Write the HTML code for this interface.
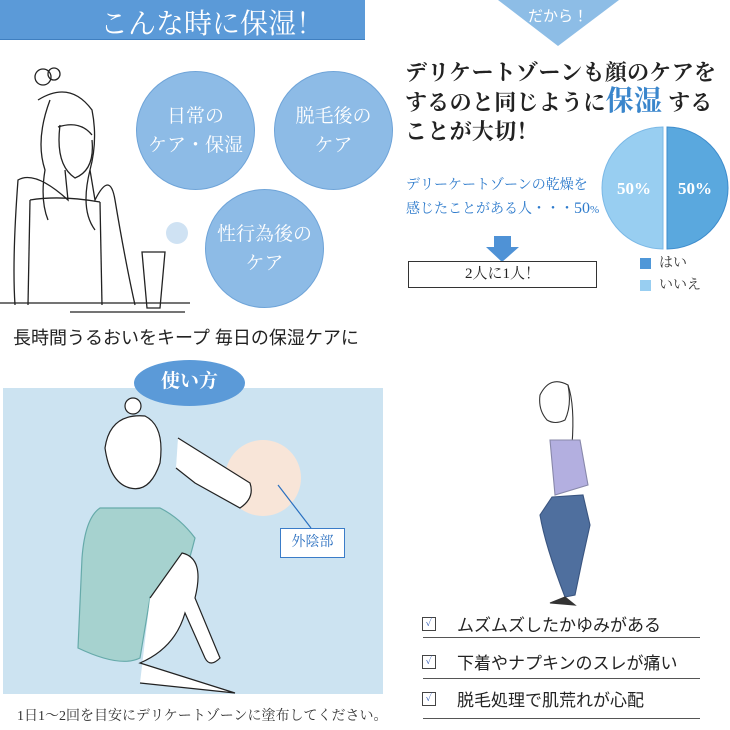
<!DOCTYPE html>
<html><head><meta charset="utf-8"><style>
body{margin:0;width:730px;height:730px;position:relative;background:#fff;overflow:hidden;font-family:"Liberation Serif","Noto Serif CJK SC","Noto Sans CJK JP",serif;}
.a{position:absolute;white-space:nowrap}
.c{position:absolute;border-radius:50%;background:#8dbbe6;border:1px solid #6fa4d8;color:#fff;text-align:center;font-size:19px;line-height:29px;display:flex;align-items:center;justify-content:center}
.chk{position:absolute;width:12px;height:12px;border:1px solid #444;left:422px;font-size:10px;color:#2a55b0;line-height:12px;text-align:center}
.ln{position:absolute;left:423px;width:277px;height:1px;background:#555}
.it{position:absolute;left:457px;font-size:17px;color:#222;font-family:"Liberation Sans","Noto Sans CJK JP",sans-serif}
</style></head><body>
<div class="a" style="left:0;top:0;width:365px;height:39px;background:#5b9ad8;border-bottom:1px solid #3f7fc0"></div>
<div class="a" style="left:100px;top:2px;font-size:28px;color:#fff">こんな時に保湿！</div>
<div class="c" style="left:136px;top:71px;width:117px;height:117px">日常の<br>ケア・保湿</div>
<div class="c" style="left:274px;top:71px;width:117px;height:117px">脱毛後の<br>ケア</div>
<div class="c" style="left:205px;top:189px;width:117px;height:117px">性行為後の<br>ケア</div>
<svg class="a" style="left:0;top:60px" width="200" height="260" fill="none" stroke="#222" stroke-width="1.3">
<circle cx="43" cy="17" r="8"/><circle cx="54" cy="14" r="6"/>
<path d="M38 40 Q70 20 92 50 Q98 80 90 110 Q80 150 95 170"/><path d="M50 40 Q35 80 45 110 Q40 140 48 160"/>
<path d="M60 65 Q55 105 75 118 Q95 110 92 80"/><path d="M58 67 Q80 60 92 75"/>
<path d="M65 110 L68 140 Q35 110 18 120 Q12 200 15 245"/><path d="M90 110 L95 140 Q110 110 115 140 Q125 200 135 245"/>
<path d="M30 140 Q60 135 100 142"/><path d="M30 140 L28 245"/><path d="M100 142 L102 245"/>
<path d="M0 243 L190 243"/><path d="M70 252 L185 252"/>
<path d="M142 192 L165 192 L160 248 L147 248 Z"/>
</svg>
<div class="a" style="left:166px;top:222px;width:22px;height:22px;border-radius:50%;background:#cfe2f3"></div>
<div class="a" style="left:13px;top:324px;font-size:18px;color:#222;font-family:'Liberation Sans','Noto Sans CJK JP',sans-serif">長時間うるおいをキープ 毎日の保湿ケアに</div>

<svg class="a" style="left:498px;top:0" width="121" height="47"><polygon points="0,0 121,0 60,46" fill="#8dbde6"/><text x="60" y="21" fill="#fff" font-size="15" text-anchor="middle" font-family="Liberation Sans,Noto Sans CJK JP,sans-serif">だから！</text></svg>
<div class="a" style="left:405px;top:58px;font-size:22px;font-weight:bold;color:#222;line-height:29px;letter-spacing:0.3px">デリケートゾーンも顔のケアを<br>するのと同じように<span style="color:#3a86cc;font-size:28px">保湿</span> する<br>ことが大切！</div>
<div class="a" style="left:406px;top:174px;font-size:14px;color:#2e7bcc;line-height:23px">デリーケートゾーンの乾燥を<br>感じたことがある人・・・<span style="font-size:16px">50</span><span style="font-size:11px">%</span></div>
<svg class="a" style="left:600px;top:124px" width="130" height="128">
<path d="M63 3 A61 61 0 0 0 63 125 Z" fill="#98cef1" stroke="#7ab8e6"/>
<path d="M67 3 A61 61 0 0 1 67 125 Z" fill="#5aa8de" stroke="#3d8ccc"/>
<text x="34" y="70" fill="#fff" font-size="17" font-weight="bold" text-anchor="middle">50%</text>
<text x="95" y="70" fill="#fff" font-size="17" font-weight="bold" text-anchor="middle">50%</text></svg>
<svg class="a" style="left:486px;top:236px" width="33" height="26"><polygon points="8,0 25,0 25,11 33,11 16,26 0,11 8,11" fill="#4f92d6"/></svg>
<div class="a" style="left:408px;top:261px;width:187px;height:25px;border:1px solid #333;text-align:center;font-size:15px;line-height:25px;color:#222">2人に1人！</div>
<div class="a" style="left:640px;top:258px;width:11px;height:11px;background:#4f97d8"></div>
<div class="a" style="left:640px;top:280px;width:11px;height:11px;background:#98cef1"></div>
<div class="a" style="left:659px;top:253px;font-size:14px;color:#333;line-height:22px">はい<br>いいえ</div>

<div class="a" style="left:3px;top:388px;width:380px;height:306px;background:#cce3f1"></div>
<div class="a" style="left:134px;top:360px;width:111px;height:46px;border-radius:50%;background:#5b9ad8;color:#fff;font-size:19px;font-weight:bold;text-align:center;line-height:44px">使い方</div>
<div class="a" style="left:225px;top:440px;width:76px;height:76px;border-radius:50%;background:#f8e5d8"></div>
<svg class="a" style="left:0;top:388px" width="383" height="306" fill="none" stroke="#222" stroke-width="1.2">
<circle cx="133" cy="18" r="8" fill="#fff"/>
<path d="M105 60 Q110 25 145 28 Q165 38 160 75 Q150 105 130 100 Q110 95 105 60Z" fill="#fff"/>
<path d="M100 120 Q85 130 82 170 L78 260 Q120 280 140 270 L150 210 L165 245 Q185 190 195 150 Q180 130 160 120 Z" fill="#a6d2cf" stroke="#6aa"/>
<path d="M150 210 L182 165 Q205 170 195 210 L220 270 Q210 280 205 270 L185 225 Q175 260 140 275 L235 305 L140 295" fill="#fff"/>
<path d="M178 50 L250 95 Q255 110 240 120 L195 95 L176 80" fill="#fff"/>
<path d="M278 97 L311 140" stroke="#2a70c0"/>
</svg>
<div class="a" style="left:280px;top:528px;width:63px;height:28px;border:1px solid #3a7cc8;background:#fff;color:#2a6fc0;font-size:14px;text-align:center;line-height:28px">外陰部</div>
<div class="a" style="left:17px;top:705px;font-size:14px;color:#333">1日1～2回を目安にデリケートゾーンに塗布してください。</div>

<svg class="a" style="left:510px;top:375px" width="90" height="235" fill="none" stroke="#333" stroke-width="1.1">
<path d="M30 20 Q40 0 58 10 Q62 30 55 45 Q45 50 37 45 Q28 35 30 20Z" fill="#fff"/>
<path d="M58 10 Q65 30 62 70"/>
<path d="M40 65 L70 65 L78 110 L45 120 Z" fill="#b3afe0" stroke="#88a"/>
<path d="M42 122 L73 120 L80 150 Q72 185 65 220 L55 222 Q35 170 30 140 Z" fill="#4f6f9e" stroke="#3a5580"/>
<path d="M55 222 L40 228 L65 230 Z" fill="#333"/>
</svg>
<div class="chk" style="top:617px">✓</div><div class="it" style="top:611px">ムズムズしたかゆみがある</div><div class="ln" style="top:637px"></div>
<div class="chk" style="top:655px">✓</div><div class="it" style="top:649px">下着やナプキンのスレが痛い</div><div class="ln" style="top:678px"></div>
<div class="chk" style="top:692px">✓</div><div class="it" style="top:686px">脱毛処理で肌荒れが心配</div><div class="ln" style="top:718px"></div>
</body></html>
